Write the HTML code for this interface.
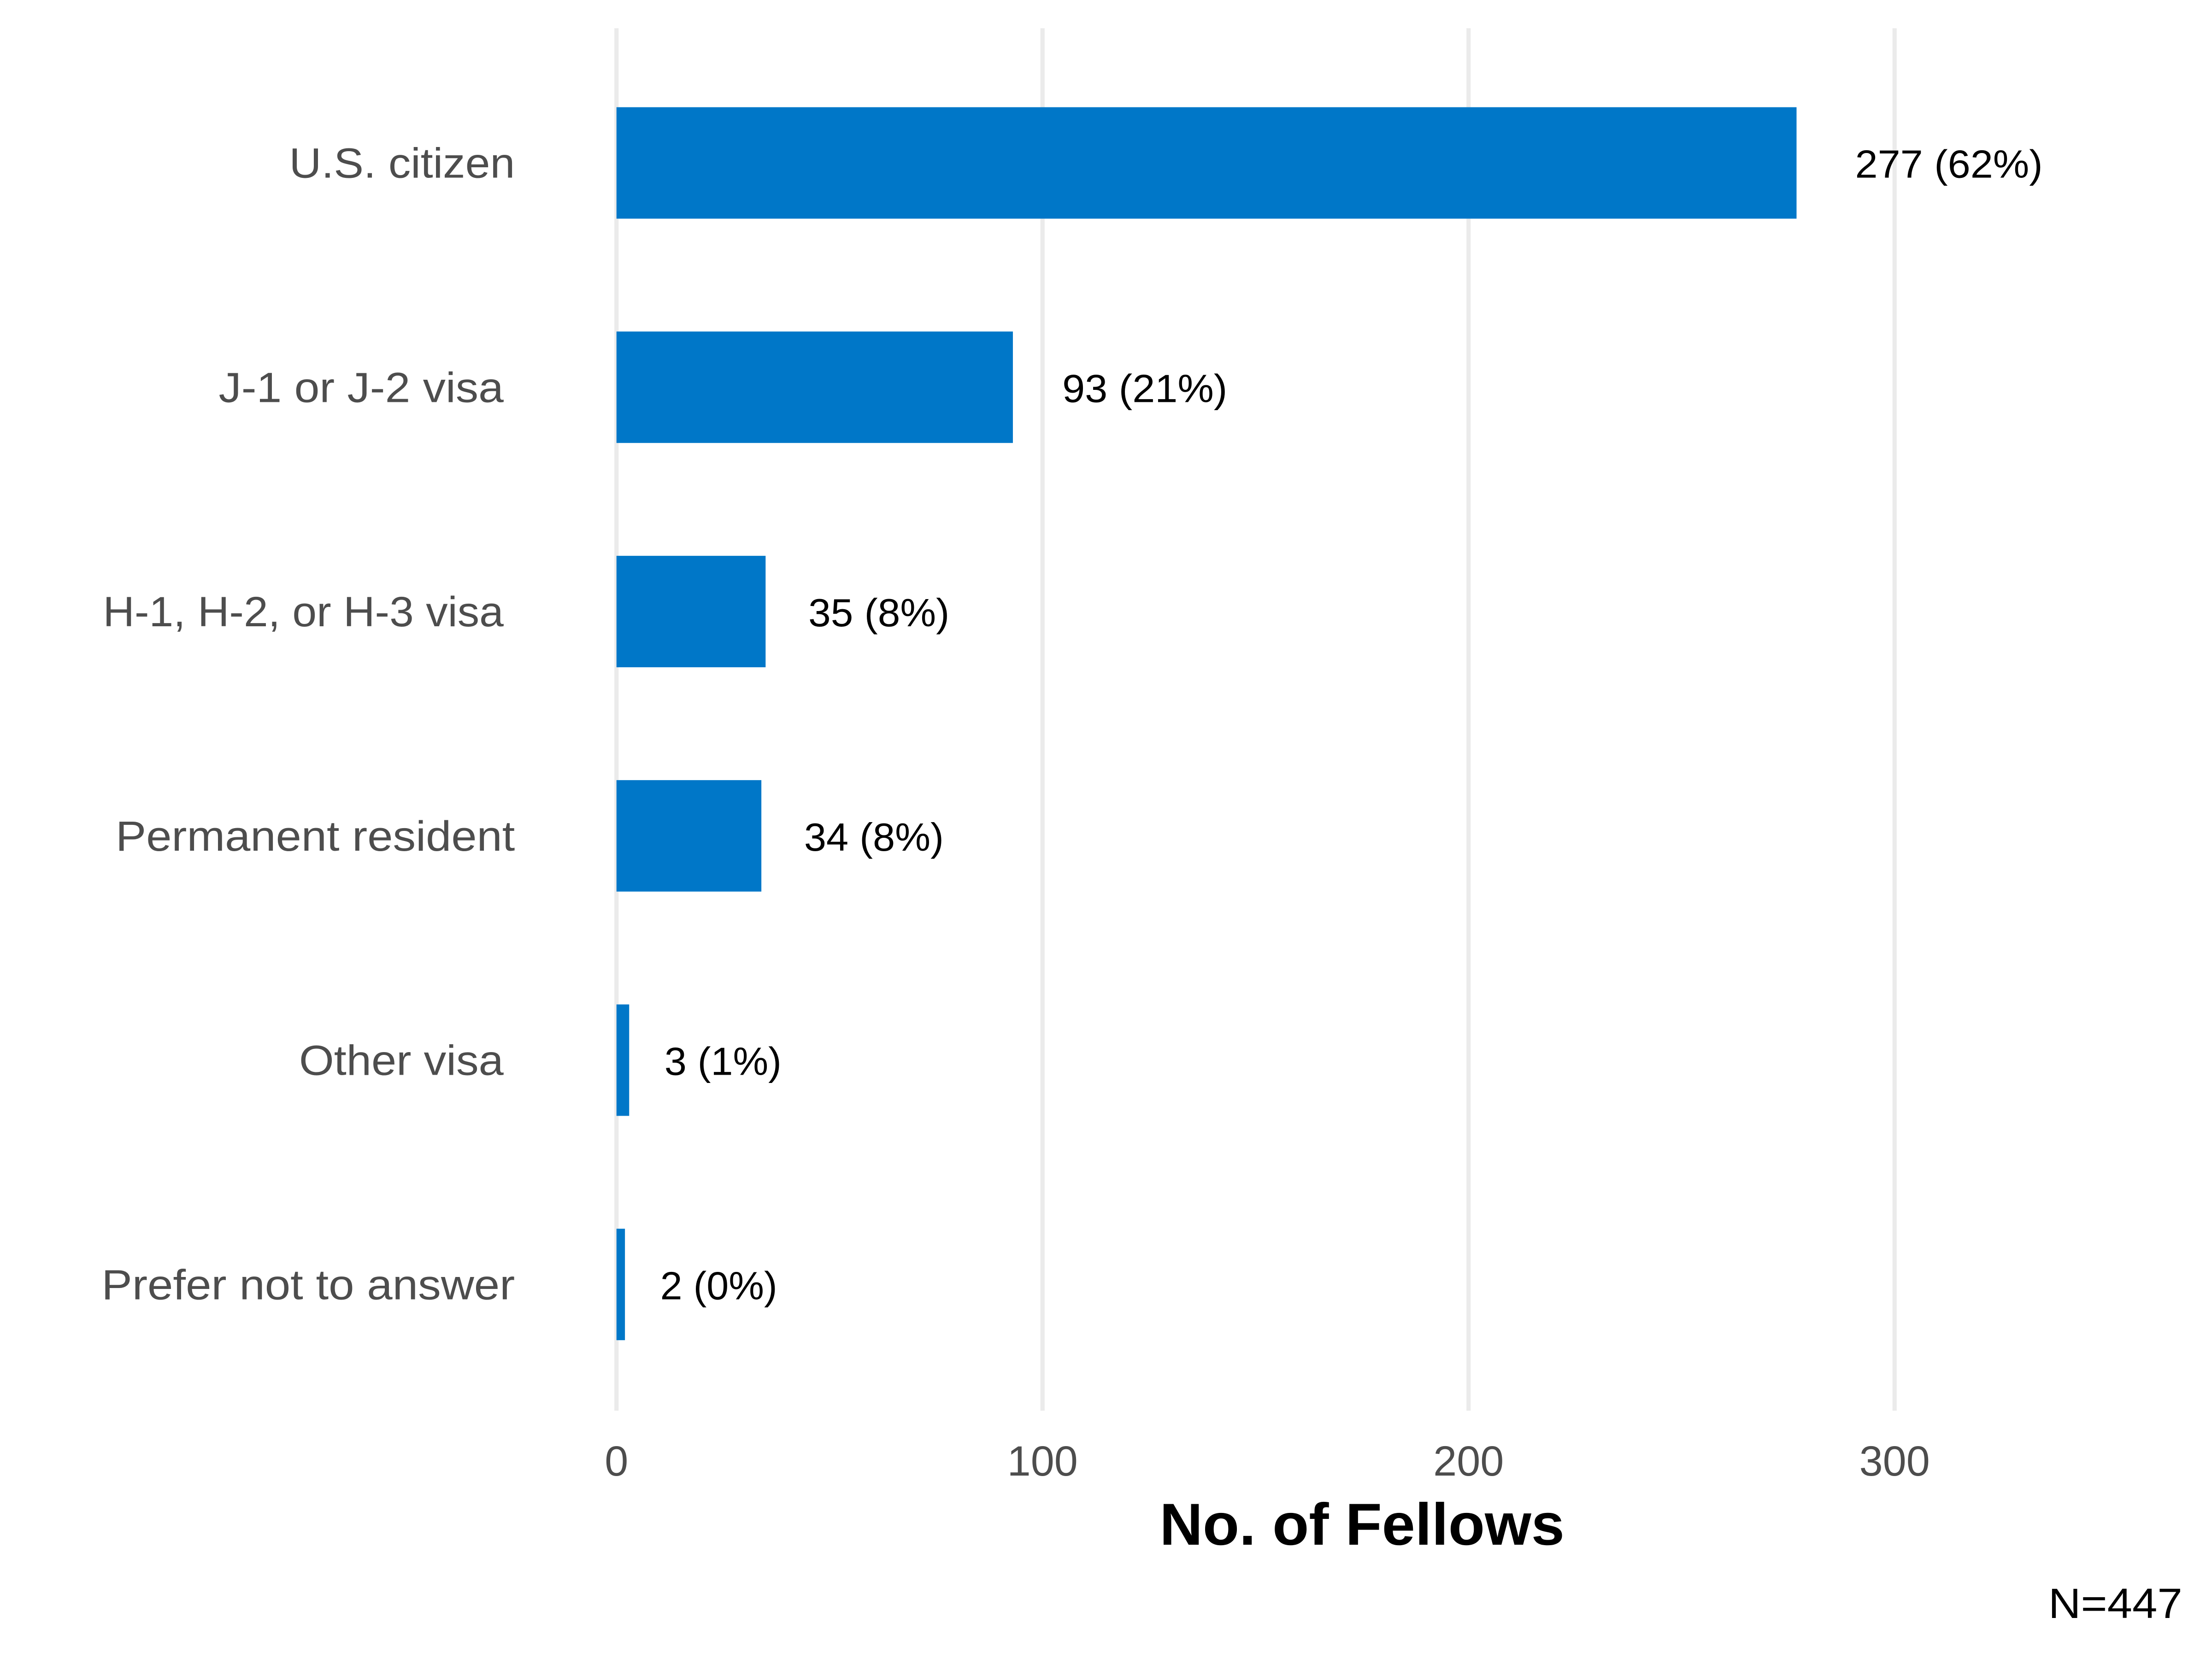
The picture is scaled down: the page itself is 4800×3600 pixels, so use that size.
<!DOCTYPE html>
<html><head><meta charset="utf-8"><style>
html,body{margin:0;padding:0;background:#fff;}
svg{display:block;}
text{font-family:"Liberation Sans",sans-serif;}
</style></head><body>
<svg width="4800" height="3600" viewBox="0 0 1568 1176" xmlns="http://www.w3.org/2000/svg">
<rect width="1568" height="1176" fill="#fff"/>
<g stroke="#ebebeb" stroke-width="3">
<line x1="437" y1="20" x2="437" y2="1000"/>
<line x1="739" y1="20" x2="739" y2="1000"/>
<line x1="1041" y1="20" x2="1041" y2="1000"/>
<line x1="1343" y1="20" x2="1343" y2="1000"/>
</g>
<g fill="#0077c8">
<rect x="437" y="76" width="836.5" height="79"/>
<rect x="437" y="235" width="281" height="79"/>
<rect x="437" y="394" width="105.7" height="79"/>
<rect x="437" y="553" width="102.7" height="79"/>
<rect x="437" y="712" width="9" height="79"/>
<rect x="437" y="871" width="6" height="79"/>
</g>
<g font-size="30" fill="#4d4d4d" text-anchor="end" lengthAdjust="spacingAndGlyphs">
<text x="365" y="126" textLength="160" lengthAdjust="spacingAndGlyphs">U.S. citizen</text>
<text x="357" y="285" textLength="202" lengthAdjust="spacingAndGlyphs">J-1 or J-2 visa</text>
<text x="357" y="444" textLength="284" lengthAdjust="spacingAndGlyphs">H-1, H-2, or H-3 visa</text>
<text x="365" y="603" textLength="283" lengthAdjust="spacingAndGlyphs">Permanent resident</text>
<text x="357" y="762" textLength="145" lengthAdjust="spacingAndGlyphs">Other visa</text>
<text x="365" y="921" textLength="293" lengthAdjust="spacingAndGlyphs">Prefer not to answer</text>
</g>
<g font-size="28" fill="#000">
<text x="1315" y="126" textLength="133" lengthAdjust="spacingAndGlyphs">277 (62%)</text>
<text x="753" y="285" textLength="117" lengthAdjust="spacingAndGlyphs">93 (21%)</text>
<text x="573" y="444" textLength="100" lengthAdjust="spacingAndGlyphs">35 (8%)</text>
<text x="570" y="603" textLength="99" lengthAdjust="spacingAndGlyphs">34 (8%)</text>
<text x="471" y="762" textLength="83" lengthAdjust="spacingAndGlyphs">3 (1%)</text>
<text x="468" y="921" textLength="83" lengthAdjust="spacingAndGlyphs">2 (0%)</text>
</g>
<g font-size="30" fill="#4d4d4d" text-anchor="middle">
<text x="437" y="1046">0</text>
<text x="739" y="1046">100</text>
<text x="1041" y="1046">200</text>
<text x="1343" y="1046">300</text>
</g>
<text x="822" y="1095" font-size="42" font-weight="bold" fill="#000" textLength="287" lengthAdjust="spacingAndGlyphs">No. of Fellows</text>
<text x="1547" y="1147" font-size="30" text-anchor="end" fill="#000" textLength="95" lengthAdjust="spacingAndGlyphs">N=447</text>
</svg>
</body></html>
